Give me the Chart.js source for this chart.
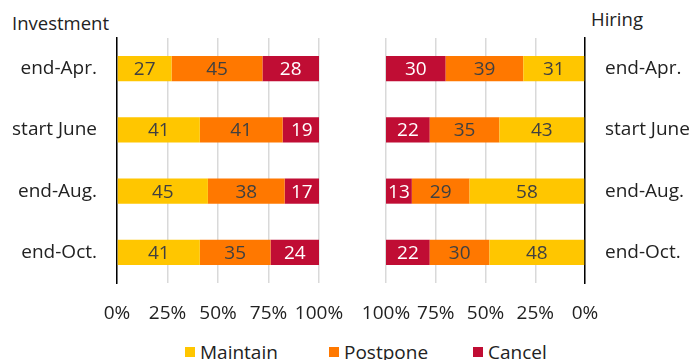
<!DOCTYPE html>
<html>
<head>
<meta charset="utf-8">
<script src="https://cdn.jsdelivr.net/npm/chart.js@4.4.0/dist/chart.umd.min.js"></script>
<style>
  body { margin: 0; background: #fff; font-family: "Open Sans", sans-serif; }
  #wrap { position: relative; width: 690px; height: 360px; overflow: hidden; }
  #cvLeft { position: absolute; left: 0; top: 0; }
  #cvRight { position: absolute; left: 345px; top: 0; }
  .ttl { position: absolute; font-size: 18.5px; color: #222; }
  #legend { position: absolute; left: 185px; top: 339px; display: flex; font-size: 19px; color: #222; }
  #legend div { width: 144px; display: flex; align-items: center; }
  #legend span.sw { width: 10px; height: 10px; margin-right: 5px; display: inline-block; }
</style>
</head>
<body>
<div id="wrap">
  <div class="ttl" style="left:12px; top:10px;">Investment</div>
  <div class="ttl" style="left:591px; top:6px;">Hiring</div>
  <canvas id="cvLeft" width="345" height="330"></canvas>
  <canvas id="cvRight" width="345" height="330"></canvas>
  <div id="legend"></div>
</div>
<script>
// ***** data *****
const categories = ["end-Apr.", "start June", "end-Aug.", "end-Oct."]
const seriesNames = ["Maintain", "Postpone", "Cancel"]
const seriesColors = ["#FFC600", "#FF7800", "#C00D34"]
const labelColors = ["#404040", "#404040", "#ffffff"]

const investMaintain = [27, 41, 45, 41]
const investPostpone = [45, 41, 38, 35]
const investCancel = [28, 19, 17, 24]

const hiringMaintain = [31, 43, 58, 48]
const hiringPostpone = [39, 35, 29, 30]
const hiringCancel = [30, 22, 13, 22]

const tickValues = [0, 25, 50, 75, 100]

const fontFamily = '"Open Sans", sans-serif'
const fontSize = 19

// ***** value labels inside bars *****
const barLabels = {
  id: "barLabels",
  afterDatasetsDraw(chart) {
    const ctx = chart.ctx
    ctx.save()
    ctx.font = fontSize + "px " + fontFamily
    ctx.textAlign = "center"
    ctx.textBaseline = "middle"
    chart.data.datasets.forEach((ds, i) => {
      const meta = chart.getDatasetMeta(i)
      meta.data.forEach((bar, j) => {
        const p = bar.getProps(["x", "y", "base"], true)
        ctx.fillStyle = labelColors[i]
        ctx.fillText(ds.data[j], (p.x + p.base) / 2, p.y + 1)
      })
    })
    ctx.restore()
  }
}

const makeDatasets = values => values.map((v, i) => ({
  label: seriesNames[i],
  data: v,
  backgroundColor: seriesColors[i],
  borderWidth: 0,
  barPercentage: 0.41,
  categoryPercentage: 1
}))

const makeChart = (id, values, right) => new Chart(document.getElementById(id), {
  type: "bar",
  data: { labels: categories, datasets: makeDatasets(values) },
  options: {
    indexAxis: "y",
    responsive: false,
    animation: false,
    events: [],
    layout: { padding: right ? { left: 41, top: 38, right: 0, bottom: 0 } : { left: 0, top: 38, right: 26, bottom: 0 } },
    plugins: { legend: { display: false }, tooltip: { enabled: false } },
    scales: {
      x: {
        stacked: true,
        min: 0,
        max: 100,
        reverse: right,
        afterBuildTicks: s => { s.ticks = tickValues.map(v => ({ value: v })) },
        afterFit: s => { s.height = 47; s.paddingLeft = 0; s.paddingRight = 0 },
        grid: { color: "#d9d9d9", lineWidth: 1.5, drawTicks: false },
        border: { display: false },
        ticks: {
          padding: 19,
          color: "#222",
          autoSkip: false,
          maxRotation: 0,
          minRotation: 0,
          font: { family: fontFamily, size: fontSize },
          callback: v => v + "%"
        }
      },
      y: {
        stacked: true,
        position: right ? "right" : "left",
        afterFit: s => { s.width = right ? 105 : 117 },
        grid: { display: false, drawTicks: false },
        border: { display: true, color: "#000", width: 1.5 },
        ticks: {
          padding: 20,
          color: "#222",
          font: { family: fontFamily, size: fontSize }
        }
      }
    }
  },
  plugins: [barLabels]
})

makeChart("cvLeft", [investMaintain, investPostpone, investCancel], false)
makeChart("cvRight", [hiringMaintain, hiringPostpone, hiringCancel], true)

// ***** legend *****
const legend = document.getElementById("legend")
seriesNames.forEach((name, i) => {
  const item = document.createElement("div")
  item.innerHTML = '<span class="sw" style="background:' + seriesColors[i] + '"></span>' + name
  legend.appendChild(item)
})
</script>
</body>
</html>
